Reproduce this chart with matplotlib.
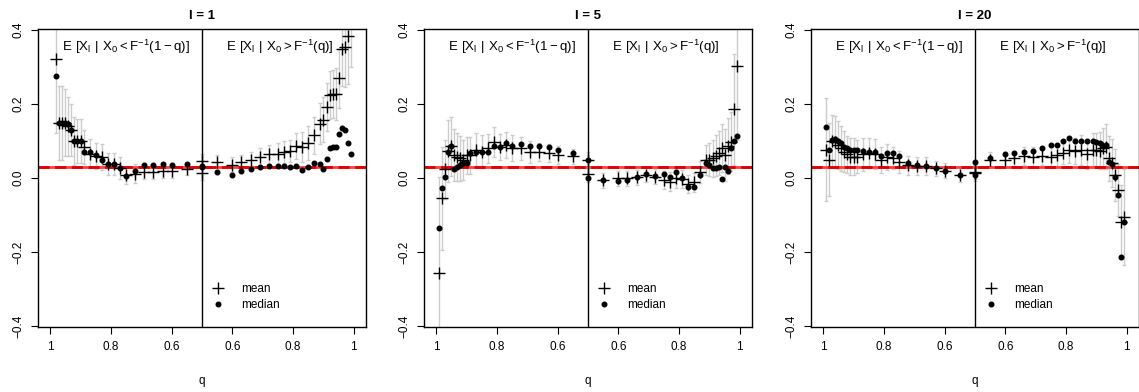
import numpy as np
import matplotlib
matplotlib.use('Agg')
import matplotlib.pyplot as plt

plt.rcParams['font.family'] = ['Liberation Sans', 'DejaVu Sans']
plt.rcParams['mathtext.fontset'] = 'custom'
plt.rcParams['mathtext.rm'] = 'Liberation Sans'
plt.rcParams['mathtext.default'] = 'regular'

nan = float('nan')

# quantile levels q (same grid on both sides of the split)
q = [0.5, 0.55, 0.6, 0.63, 0.66, 0.69, 0.72, 0.75, 0.77, 0.79, 0.81, 0.83, 0.85,
     0.87, 0.89, 0.9, 0.91, 0.92, 0.93, 0.94, 0.95, 0.96, 0.97, 0.98, 0.99]

# l = 1
l1_left_mean = [0.046, 0.023, 0.02, 0.019, 0.016, 0.016, 0.012, 0.008, 0.026, 0.037, 0.037, 0.057, 0.059,
                0.066, 0.084, 0.10, 0.10, 0.10, 0.129, 0.14, 0.15, 0.15, 0.15, 0.323, nan]
l1_left_median = [0.03, 0.037, 0.035, 0.037, 0.035, 0.035, 0.02, 0.005, 0.026, 0.037, 0.037, 0.05, 0.062,
                  0.07, 0.07, 0.10, 0.10, 0.10, 0.13, 0.145, 0.15, 0.148, 0.15, 0.277, nan]
l1_left_err = [0.02, 0.015, 0.02, 0.02, 0.02, 0.02, 0.025, 0.025, 0.03, 0.03, 0.03, 0.035, 0.035,
               0.04, 0.045, 0.06, 0.06, 0.065, 0.07, 0.08, 0.09, 0.1, 0.1, 0.2, nan]
l1_right_mean = [0.014, 0.042, 0.036, 0.043, 0.05, 0.057, 0.064, 0.064, 0.07, 0.073, 0.086, 0.084, 0.095,
                 0.115, 0.147, 0.158, 0.192, 0.224, 0.226, 0.228, 0.27, 0.35, 0.355, 0.384, 0.45]
l1_right_median = [0.033, 0.016, 0.009, 0.019, 0.025, 0.03, 0.032, 0.033, 0.032, 0.03, 0.033, 0.021, 0.03,
                   0.041, 0.039, 0.024, 0.052, 0.08, 0.083, 0.085, 0.12, 0.135, 0.13, 0.094, 0.064]
l1_right_err = [0.02, 0.02, 0.02, 0.02, 0.02, 0.025, 0.025, 0.03, 0.03, 0.03, 0.035, 0.04, 0.045,
                0.05, 0.055, 0.06, 0.065, 0.065, 0.065, 0.07, 0.08, 0.1, 0.11, 0.13, 0.15]

# l = 5
l5_left_mean = [0.049, 0.059, 0.062, 0.068, 0.071, 0.071, 0.08, 0.08, 0.09, 0.085, 0.098, 0.08, 0.071,
                0.077, 0.062, 0.062, 0.049, 0.053, 0.058, 0.062, 0.086, 0.073, 0.024, -0.055, -0.258]
l5_left_median = [0.05, 0.068, 0.077, 0.084, 0.086, 0.086, 0.093, 0.086, 0.095, 0.085, 0.086, 0.071, 0.069,
                  0.071, 0.068, 0.04, 0.04, 0.035, 0.03, 0.023, 0.086, 0.071, 0.004, -0.028, -0.136]
l5_left_err = [0.02, 0.02, 0.025, 0.025, 0.025, 0.03, 0.03, 0.035, 0.035, 0.035, 0.04, 0.04, 0.045,
               0.045, 0.05, 0.05, 0.055, 0.06, 0.065, 0.07, 0.08, 0.085, 0.08, 0.14, 0.26]
l5_right_mean = [0.01, -0.006, -0.001, -0.001, 0.002, 0.008, 0.004, -0.005, -0.01, -0.001, -0.003, -0.016, -0.012,
                 0.017, 0.049, 0.05, 0.053, 0.06, 0.067, 0.08, 0.062, 0.086, 0.098, 0.186, 0.303]
l5_right_median = [0.0, -0.005, -0.007, -0.005, 0.002, 0.011, 0.005, 0.011, 0.002, 0.017, -0.001, -0.023, -0.023,
                   0.008, 0.04, 0.035, 0.026, 0.026, 0.03, -0.003, 0.029, 0.02, 0.08, 0.1, 0.114]
l5_right_err = [0.02, 0.02, 0.02, 0.02, 0.02, 0.02, 0.02, 0.025, 0.025, 0.025, 0.025, 0.025, 0.025,
                0.03, 0.04, 0.045, 0.05, 0.055, 0.06, 0.065, 0.07, 0.075, 0.08, 0.15, 0.2]

# l = 20
l20_left_mean = [0.016, 0.008, 0.02, 0.026, 0.032, 0.032, 0.034, 0.044, 0.053, 0.056, 0.049, 0.065, 0.067,
                 0.064, 0.058, 0.058, 0.058, 0.064, 0.071, 0.08, 0.09, 0.098, 0.1, 0.05, 0.077]
l20_left_median = [0.044, 0.008, 0.02, 0.026, 0.032, 0.035, 0.04, 0.059, 0.068, 0.068, 0.06, 0.071, 0.071,
                   0.074, 0.077, 0.077, 0.076, 0.08, 0.083, 0.095, 0.1, 0.105, 0.103, 0.077, 0.137]
l20_left_err = [0.02, 0.02, 0.02, 0.02, 0.025, 0.025, 0.025, 0.03, 0.03, 0.035, 0.035, 0.04, 0.04,
                0.045, 0.045, 0.05, 0.05, 0.05, 0.055, 0.06, 0.065, 0.07, 0.07, 0.1, 0.14]
l20_right_mean = [0.013, 0.05, 0.05, 0.053, 0.059, 0.058, 0.059, 0.058, 0.062, 0.067, 0.076, 0.074, 0.076,
                  0.064, 0.077, 0.076, 0.074, 0.08, 0.085, 0.053, 0.041, 0.008, -0.032, -0.12, -0.106]
l20_right_median = [0.008, 0.053, 0.065, 0.067, 0.071, 0.074, 0.08, 0.089, 0.089, 0.1, 0.107, 0.1, 0.1,
                    0.1, 0.1, 0.098, 0.095, 0.086, 0.09, 0.044, 0.038, 0.004, -0.046, -0.214, -0.12]
l20_right_err = [0.02, 0.02, 0.02, 0.02, 0.025, 0.025, 0.025, 0.03, 0.03, 0.03, 0.035, 0.035, 0.04,
                 0.04, 0.045, 0.045, 0.05, 0.055, 0.06, 0.06, 0.065, 0.07, 0.07, 0.1, 0.13]

lags = [1, 5, 20]
panels = [
    (l1_left_mean, l1_left_median, l1_left_err, l1_right_mean, l1_right_median, l1_right_err),
    (l5_left_mean, l5_left_median, l5_left_err, l5_right_mean, l5_right_median, l5_right_err),
    (l20_left_mean, l20_left_median, l20_left_err, l20_right_mean, l20_right_median, l20_right_err),
]
overall_mean = 0.03

tick_q = [1, 0.8, 0.6, 0.6, 0.8, 1]


def draw(ax, lag, data):
    lm, lmed, lerr, rm, rmed, rerr = [np.array(d, dtype=float) for d in data]
    qq = np.array(q)
    xl = -(qq - 0.5)    # left half runs from q=1 down to 0.5
    xr = qq - 0.5

    for x, m, md, e in ((xl, lm, lmed, lerr), (xr, rm, rmed, rerr)):
        ax.errorbar(x, m, yerr=e, fmt='none', ecolor='#cccccc', elinewidth=1.0,
                    capsize=1.5, capthick=1.0, zorder=1)
        ax.plot(x, m, '+', color='black', ms=8, mew=1.0, zorder=3, label='mean')
        ax.plot(x, md, 'o', color='black', ms=3.3, zorder=3, label='median')

    ax.axhline(overall_mean, color='#ff4040', lw=2.0, zorder=2)
    ax.axhline(overall_mean, color='#e00000', lw=2.0, dashes=(4, 2), zorder=2)
    ax.axvline(0, color='black', lw=1.0, zorder=2)

    ax.set_xlim(-0.54, 0.54)
    ax.set_ylim(-0.403, 0.403)
    ax.set_xticks([-0.5, -0.3, -0.1, 0.1, 0.3, 0.5])
    ax.set_xticklabels([('%g' % t) for t in tick_q])
    ax.set_yticks([-0.4, -0.2, 0.0, 0.2, 0.4])
    ax.set_yticklabels(['\u22120.4', '\u22120.2', '0.0', '0.2', '0.4'], rotation=90, va='center')
    ax.tick_params(direction='out', length=5, width=0.8, labelsize=8.5, pad=5)
    for s in ax.spines.values():
        s.set_linewidth(1.0)
    ax.set_xlabel('q', fontsize=8.5, labelpad=16)
    ax.set_title('l = %d' % lag, fontsize=9.5, fontweight='bold', pad=7)

    ax.text(-0.25, 0.354, r'$E\ [X_l\ |\ X_0 < F^{-1}(1 - q)]$', ha='center', va='center', fontsize=9.5)
    ax.text(0.255, 0.354, r'$E\ [X_l\ |\ X_0 > F^{-1}(q)]$', ha='center', va='center', fontsize=9.5)

    h, lab = ax.get_legend_handles_labels()
    ax.legend(h[:2], lab[:2], loc='upper left', bbox_to_anchor=(0.51, 0.168), frameon=False,
              fontsize=8.5, handlelength=1.2, handletextpad=1.3, labelspacing=0.35, borderpad=0)


fig = plt.figure(figsize=(11.39, 3.92), dpi=100)
lefts = [38, 424, 811]
for i, lag in enumerate(lags):
    ax = fig.add_axes([lefts[i] / 1139.0, 65 / 392.0, 328 / 1139.0, 298 / 392.0])
    draw(ax, lag, panels[i])

fig.savefig('out.png', dpi=100)
